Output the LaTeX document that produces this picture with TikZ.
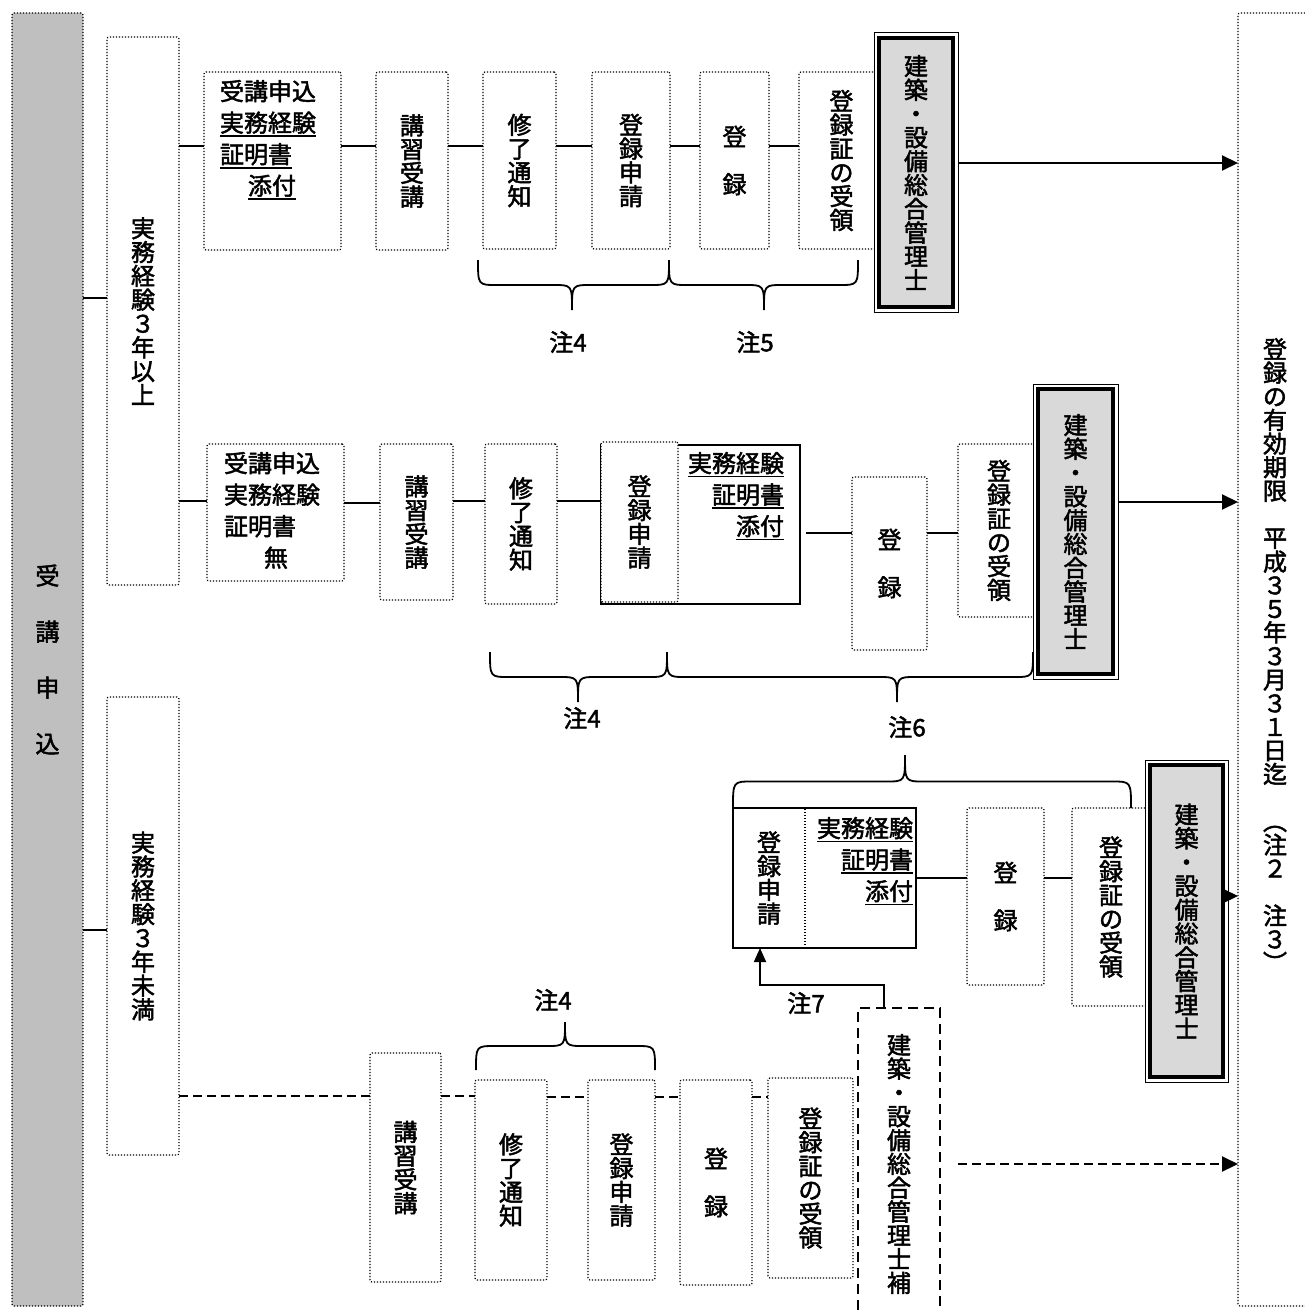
\documentclass[tikz,border=0pt]{standalone}
\usepackage{fontspec}
\setmainfont{Noto Sans CJK JP}[FakeBold=2.0]
\usetikzlibrary{arrows.meta}
\definecolor{graycol}{HTML}{BFBFBF}
\definecolor{framegray}{HTML}{D9D9D9}

\ExplSyntaxOn
\NewDocumentCommand\vtxt{m}
 {
  \seq_clear:N \l_tmpa_seq
  \tl_map_inline:nn {#1} { \seq_put_right:Nn \l_tmpa_seq {##1} }
  \seq_use:Nn \l_tmpa_seq {\\}
 }
\ExplSyntaxOff

\newcommand\myul[1]{\leavevmode\vtop{\hbox{#1}\kern1.5pt\hrule height 1.8pt}}

\newcommand\mkbox[7]{%
  \pgfmathsetmacro\bxw{#5-#3}%
  \pgfmathsetmacro\bxh{#6-#4}%
  \pgfmathsetmacro\bxx{(#3+#5)/2}%
  \pgfmathsetmacro\bxy{(#4+#6)/2}%
  \node[#1, minimum width=\bxw pt, minimum height=\bxh pt] (#2) at (\bxx,\bxy) {#7};%
}

\newcommand\mkframe[5]{%
  \mkbox{draw, line width=1pt, fill=white}{#1}{#2}{#3}{#4}{#5}{}%
  \draw[line width=4.5pt, fill=framegray] ([xshift=5pt,yshift=-5pt]#1.north west) rectangle ([xshift=-5pt,yshift=5pt]#1.south east);%
}

\newcommand\mybrace[5]{%
  \pgfmathsetmacro\bym{(#3+#4)/2}%
  \draw[bline] (#1,#3) .. controls (#1,\bym) .. (#1+19,\bym) -- (#5-19,\bym)
     .. controls (#5,\bym) .. (#5,#4) .. controls (#5,\bym) .. (#5+19,\bym)
     -- (#2-19,\bym) .. controls (#2,\bym) .. (#2,#3);%
}

\tikzset{
  dotbox/.style={draw, line width=1.2pt, dash pattern=on 1.2pt off 1.8pt, rounded corners=2pt, fill=white},
  dotboxnf/.style={draw, line width=1.2pt, dash pattern=on 1.2pt off 1.8pt},
  solidbox/.style={draw, line width=1.6pt, fill=white},
  dashbox/.style={draw, line width=1.6pt, dash pattern=on 10pt off 6pt},
  vfont/.style={font=\fontsize{24pt}{23.8pt}\selectfont, align=center},
  hfont/.style={font=\fontsize{24pt}{31.5pt}\selectfont},
  conthin/.style={line width=1.5pt},
  conmid/.style={line width=2.1pt},
  conthick/.style={line width=2.8pt},
  dashcon/.style={line width=2pt, dash pattern=on 9pt off 5pt},
  arr/.style={-{Triangle[length=16pt,width=15pt]}, line width=2pt},
  bline/.style={line width=1.8pt},
}

\begin{document}
\begin{tikzpicture}[x=1pt,y=-1pt, every node/.style={inner sep=0pt, outer sep=0pt}]
\useasboundingbox (0,0) rectangle (1304,1311);

% level coordinates
\coordinate (yA) at (0,298);
\coordinate (yB) at (0,930);
\coordinate (y146) at (0,146);
\coordinate (y163) at (0,163);
\coordinate (y501) at (0,501);
\coordinate (y503) at (0,503);
\coordinate (y502) at (0,502);
\coordinate (y533) at (0,533);
\coordinate (y878) at (0,878);
\coordinate (y896) at (0,896);
\coordinate (y1096) at (0,1096);
\coordinate (y1097) at (0,1097);
\coordinate (y1164) at (0,1164);

% left gray column and right column
\mkbox{dotbox, fill=graycol, font=\fontsize{24pt}{56pt}\selectfont, align=center}{g}{12}{13}{83}{1306}{\vtxt{受講申込}}
\mkbox{dotbox}{rc}{1238}{13}{1340}{1306}{}
\node[font=\fontsize{24pt}{23.6pt}\selectfont, align=center] (rct) at (1275,655)
  {\vtxt{登録の有効期限　平成３５年３月３１日迄　︵注２　注３︶}};

% experience boxes
\mkbox{dotbox,vfont}{k1}{107}{37}{179}{585}{\vtxt{実務経験３年以上}}
\mkbox{dotbox,vfont}{k2}{107}{697}{179}{1155}{\vtxt{実務経験３年未満}}

% ---- row 1
\mkbox{dotbox}{r1a}{204}{72}{341}{250}{}
\node[hfont, align=left, anchor=north west] (r1at) at (220,80)
  {受講申込\\\myul{実務経験}\\\myul{証明書}\\\hspace*{28pt}\myul{添付}};
\mkbox{dotbox,vfont}{r1b}{376}{72}{448}{250}{\vtxt{講習受講}}
\mkbox{dotbox,vfont}{r1c}{483}{72}{556}{249}{\vtxt{修了通知}}
\mkbox{dotbox,vfont}{r1d}{592}{72}{670}{249}{\vtxt{登録申請}}
\mkbox{dotbox,vfont}{r1e}{700}{72}{769}{249}{\vtxt{登　録}}
\mkbox{dotbox,vfont}{r1f}{799}{72}{884}{249}{\vtxt{登録証の受領}}
\mkframe{F1}{874}{33}{958}{312}
\node[vfont] (F1t) at (F1) {\vtxt{建築・設備総合管理士}};

% ---- row 2
\mkbox{dotbox}{r2a}{207}{444}{344}{581}{}
\node[hfont, align=left, anchor=north west] (r2at) at (224,452)
  {受講申込\\実務経験\\証明書\\\hspace*{40pt}無};
\mkbox{dotbox,vfont}{r2b}{380}{444}{453}{600}{\vtxt{講習受講}}
\mkbox{dotbox,vfont}{r2c}{485}{444}{557}{604}{\vtxt{修了通知}}
\mkbox{solidbox}{r2s}{601}{445}{800}{604}{}
\mkbox{dotbox,vfont}{r2d}{601}{442}{678}{602}{\vtxt{登録申請}}
\node[hfont, align=right, anchor=north east] (r2st) at (784,452)
  {\myul{実務経験}\\\myul{証明書}\\\myul{添付}};
\mkbox{dotbox,vfont}{r2e}{852}{477}{927}{650}{\vtxt{登　録}}
\mkbox{dotbox,vfont}{r2f}{958}{444}{1040}{617}{\vtxt{登録証の受領}}
\mkframe{F2}{1033}{384}{1118}{679}
\node[vfont] (F2t) at (F2) {\vtxt{建築・設備総合管理士}};

% ---- row 3
\mkbox{solidbox}{r3s}{733}{808}{916}{948}{}
\mkbox{dotboxnf,vfont}{r3d}{733}{808}{805}{948}{\vtxt{登録申請}}
\node[hfont, align=right, anchor=north east] (r3st) at (913,817)
  {\myul{実務経験}\\\myul{証明書}\\\myul{添付}};
\mkbox{dotbox,vfont}{r3e}{967}{808}{1044}{985}{\vtxt{登　録}}
\mkbox{dotbox,vfont}{r3f}{1072}{808}{1150}{1006}{\vtxt{登録証の受領}}
\mkframe{F3}{1145}{760}{1228}{1082}
\node[vfont] (F3t) at (F3) {\vtxt{建築・設備総合管理士}};

% ---- row 4
\mkbox{dotbox,vfont}{r4b}{370}{1053}{441}{1282}{\vtxt{講習受講}}
\mkbox{dotbox,vfont}{r4c}{475}{1080}{547}{1280}{\vtxt{修了通知}}
\mkbox{dotbox,vfont}{r4d}{588}{1080}{655}{1280}{\vtxt{登録申請}}
\mkbox{dotbox,vfont}{r4e}{680}{1080}{752}{1285}{\vtxt{登　録}}
\mkbox{dotbox,vfont}{r4f}{768}{1078}{853}{1278}{\vtxt{登録証の受領}}
\mkbox{dashbox,vfont}{r4g}{858}{1008}{940}{1320}{\vtxt{建築・設備総合管理士補}}

% ---- connectors
\draw[conthick] (g.east |- yA) -- (k1.west |- yA);
\draw[conthin] (g.east |- yB) -- (k2.west |- yB);

\draw[conmid] (k1.east |- y146) -- (r1a.west |- y146);
\draw[conmid] (r1a.east |- y146) -- (r1b.west |- y146);
\draw[conthick] (r1b.east |- y146) -- (r1c.west |- y146);
\draw[conthick] (r1c.east |- y146) -- (r1d.west |- y146);
\draw[conthick] (r1d.east |- y146) -- (r1e.west |- y146);
\draw[conthin] (r1e.east |- y146) -- (r1f.west |- y146);
\draw[arr] (F1.east |- y163) -- (rc.west |- y163);

\draw[conthick] (k1.east |- y501) -- (r2a.west |- y501);
\draw[conthin] (r2a.east |- y503) -- (r2b.west |- y503);
\draw[conmid] (r2b.east |- y501) -- (r2c.west |- y501);
\draw[conthin] (r2c.east |- y501) -- (r2d.west |- y501);
\draw[conthin, shorten <=6pt] (r2s.east |- y533) -- (r2e.west |- y533);
\draw[conthin] (r2e.east |- y533) -- (r2f.west |- y533);
\draw[arr] (F2.east |- y502) -- (rc.west |- y502);

\draw[conthin] (r3s.east |- y878) -- (r3e.west |- y878);
\draw[conthick] (r3e.east |- y878) -- (r3f.west |- y878);
\draw[arr] (F3.east |- y896) -- (rc.west |- y896);

\draw[dashcon] (k2.east |- y1096) -- (r4b.west |- y1096);
\draw[dashcon] (r4b.east |- y1096) -- (r4c.west |- y1096);
\draw[dashcon] (r4c.east |- y1097) -- (r4d.west |- y1097);
\draw[dashcon] (r4d.east |- y1097) -- (r4e.west |- y1097);
\draw[dashcon] (r4e.east |- y1097) -- (r4f.west |- y1097);
\draw[dashcon, -{Triangle[length=16pt,width=15pt]}, shorten <=18pt] (r4g.east |- y1164) -- (rc.west |- y1164);

% note 7 connector
\coordinate (n7a) at (884,985);
\coordinate (n7b) at (760,985);
\draw[line width=1.8pt, -{Triangle[length=14pt,width=12pt]}] (r4g.north -| n7a) -- (n7a) -- (n7b) -- (n7b |- r3d.south);
\node[hfont] (n7) at (806,1003) {注7};

% braces
\mybrace{478}{669}{260}{310}{572}
\mybrace{669}{858}{260}{310}{764}
\mybrace{490}{667}{652}{702}{578}
\mybrace{667}{1033}{652}{702}{897}
\mybrace{733}{1131}{808}{755}{905}
\mybrace{476}{655}{1070}{1022}{565}

\node[hfont] (n4a) at (568,342) {注4};
\node[hfont] (n5) at (755,342) {注5};
\node[hfont] (n4b) at (582,718) {注4};
\node[hfont] (n6) at (907,727) {注6};
\node[hfont] (n4c) at (553,1000) {注4};

\end{tikzpicture}
\end{document}
